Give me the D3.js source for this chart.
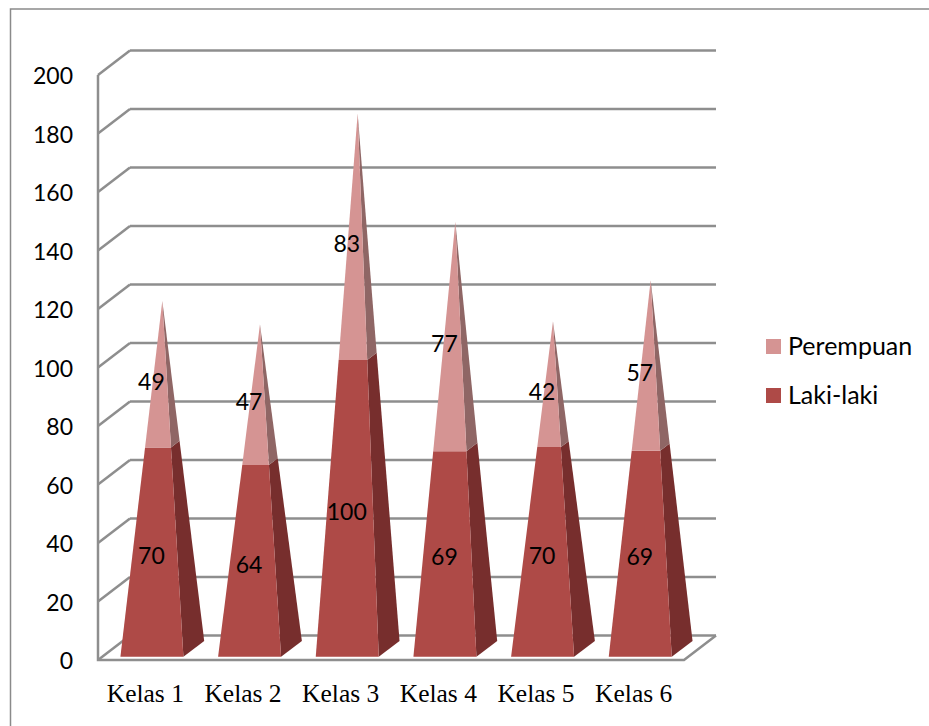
<!DOCTYPE html>
<html>
<head>
<meta charset="utf-8">
<script src="https://cdn.jsdelivr.net/npm/d3@7"></script>
<style>
  html, body { margin: 0; padding: 0; background: #fff; overflow: hidden; }
  svg { display: block; }
</style>
</head>
<body>
<div id="chart"></div>
<script>
// Data
const categories = ["Kelas 1", "Kelas 2", "Kelas 3", "Kelas 4", "Kelas 5", "Kelas 6"];
const lakiLaki = [70, 64, 100, 69, 70, 69];
const perempuan = [49, 47, 83, 77, 42, 57];
const yTicks = [0, 20, 40, 60, 80, 100, 120, 140, 160, 180, 200];
const legendNames = ["Perempuan", "Laki-laki"];

// Plot constants
const WIDTH = 929;
const HEIGHT = 726;
const DEPTH_X = 32;
const DEPTH_Y = -24.5;
const FRONT_DEPTH = 0.19;
const BACK_DEPTH = 0.84;
const SANS = "Lato, 'Open Sans', sans-serif";
const SERIF = "'Liberation Serif', serif";
const GRID = "#8e8e8e";
const colors = {
  laki: {front: "#ae4a47", side: "#772e2d"},
  perempuan: {front: "#d59493", side: "#8f6665"},
};

const svg = d3.select("#chart").append("svg").attr("width", WIDTH).attr("height", HEIGHT);

const x = d3.scaleBand().domain(categories).range([98, 684]).paddingInner(0.355).paddingOuter(0.1775);
const y = d3.scaleLinear().domain([0, 200]).range([660, 75]);

// Outer frame
svg.append("path")
  .attr("d", `M10.5,${HEIGHT}V9H${WIDTH}`)
  .attr("fill", "none")
  .attr("stroke", "#8a8a8a")
  .attr("stroke-width", 1.5);

// Walls and gridlines
const grid = svg.append("g").attr("fill", "none").attr("stroke", GRID).attr("stroke-width", 2.5);
yTicks.forEach((t) => {
  grid.append("line")
    .attr("x1", 98).attr("y1", y(t))
    .attr("x2", 98 + DEPTH_X).attr("y2", y(t) + DEPTH_Y);
  grid.append("line")
    .attr("x1", 98 + DEPTH_X).attr("y1", y(t) + DEPTH_Y)
    .attr("x2", 684 + DEPTH_X).attr("y2", y(t) + DEPTH_Y);
});
grid.append("path").attr("d", `M98,${y(200)}V${y(0)}H684L${684 + DEPTH_X},${y(0) + DEPTH_Y}`);

// Project a point of the pyramid: value v, corner of the base (u across, d in depth)
function corner(cat, u, d, v, total) {
  const bx = x(cat) + u * x.bandwidth();
  const px = bx + d * DEPTH_X;
  const py = y(0) + d * DEPTH_Y;
  const midD = (FRONT_DEPTH + BACK_DEPTH) / 2;
  const ax = x(cat) + x.bandwidth() / 2 + midD * DEPTH_X;
  const ay = y(total) + midD * DEPTH_Y;
  const t = v / total;
  return [px + (ax - px) * t, py + (ay - py) * t];
}

function segment(g, cat, from, to, total, c) {
  const line = d3.line();
  g.append("path")
    .attr("fill", c.side)
    .attr("d", line([
      corner(cat, 1, FRONT_DEPTH, from, total),
      corner(cat, 1, BACK_DEPTH, from, total),
      corner(cat, 1, BACK_DEPTH, to, total),
      corner(cat, 1, FRONT_DEPTH, to, total),
    ]) + "Z");
  g.append("path")
    .attr("fill", c.front)
    .attr("d", line([
      corner(cat, 0, FRONT_DEPTH, from, total),
      corner(cat, 1, FRONT_DEPTH, from, total),
      corner(cat, 1, FRONT_DEPTH, to, total),
      corner(cat, 0, FRONT_DEPTH, to, total),
    ]) + "Z");
}

// Pyramids
const bars = svg.append("g").attr("transform", "translate(-1,1.5)");
categories.forEach((cat, i) => {
  const total = lakiLaki[i] + perempuan[i];
  segment(bars, cat, 0, lakiLaki[i], total, colors.laki);
  segment(bars, cat, lakiLaki[i], total, total, colors.perempuan);
});

// Data labels
const labels = svg.append("g")
  .attr("font-family", SANS).attr("font-size", 23).attr("fill", "#000")
  .attr("text-anchor", "middle").attr("dominant-baseline", "central");
categories.forEach((cat, i) => {
  const cx = x(cat) + x.bandwidth() / 2 + FRONT_DEPTH * DEPTH_X - 1.5;
  const fy = (v) => y(v) + FRONT_DEPTH * DEPTH_Y + 2;
  labels.append("text").attr("x", cx).attr("y", fy(lakiLaki[i] / 2)).text(lakiLaki[i]);
  labels.append("text").attr("x", cx).attr("y", fy(lakiLaki[i] + perempuan[i] / 2)).text(perempuan[i]);
});

// Y tick labels
svg.append("g")
  .attr("font-family", SANS).attr("font-size", 23).attr("fill", "#000")
  .attr("text-anchor", "end").attr("dominant-baseline", "central")
  .selectAll("text").data(yTicks).join("text")
  .attr("x", 73).attr("y", (d) => y(d)).text((d) => d);

// Category labels
svg.append("g")
  .attr("font-family", SERIF).attr("font-size", 25.5).attr("fill", "#000")
  .attr("text-anchor", "middle")
  .selectAll("text").data(categories).join("text")
  .attr("x", (d) => x(d) + x.bandwidth() / 2 - 1.5).attr("y", 702).text((d) => d);

// Legend
const legend = svg.append("g");
legendNames.forEach((name, i) => {
  const ly = 346 + i * 49;
  legend.append("rect")
    .attr("x", 766).attr("y", ly - 7).attr("width", 15).attr("height", 15)
    .attr("fill", i === 0 ? colors.perempuan.front : colors.laki.front);
  legend.append("text")
    .attr("x", 788).attr("y", ly - 1).attr("dominant-baseline", "central")
    .attr("font-family", SANS).attr("font-size", 25).attr("fill", "#000")
    .text(name);
});
</script>
</body>
</html>
